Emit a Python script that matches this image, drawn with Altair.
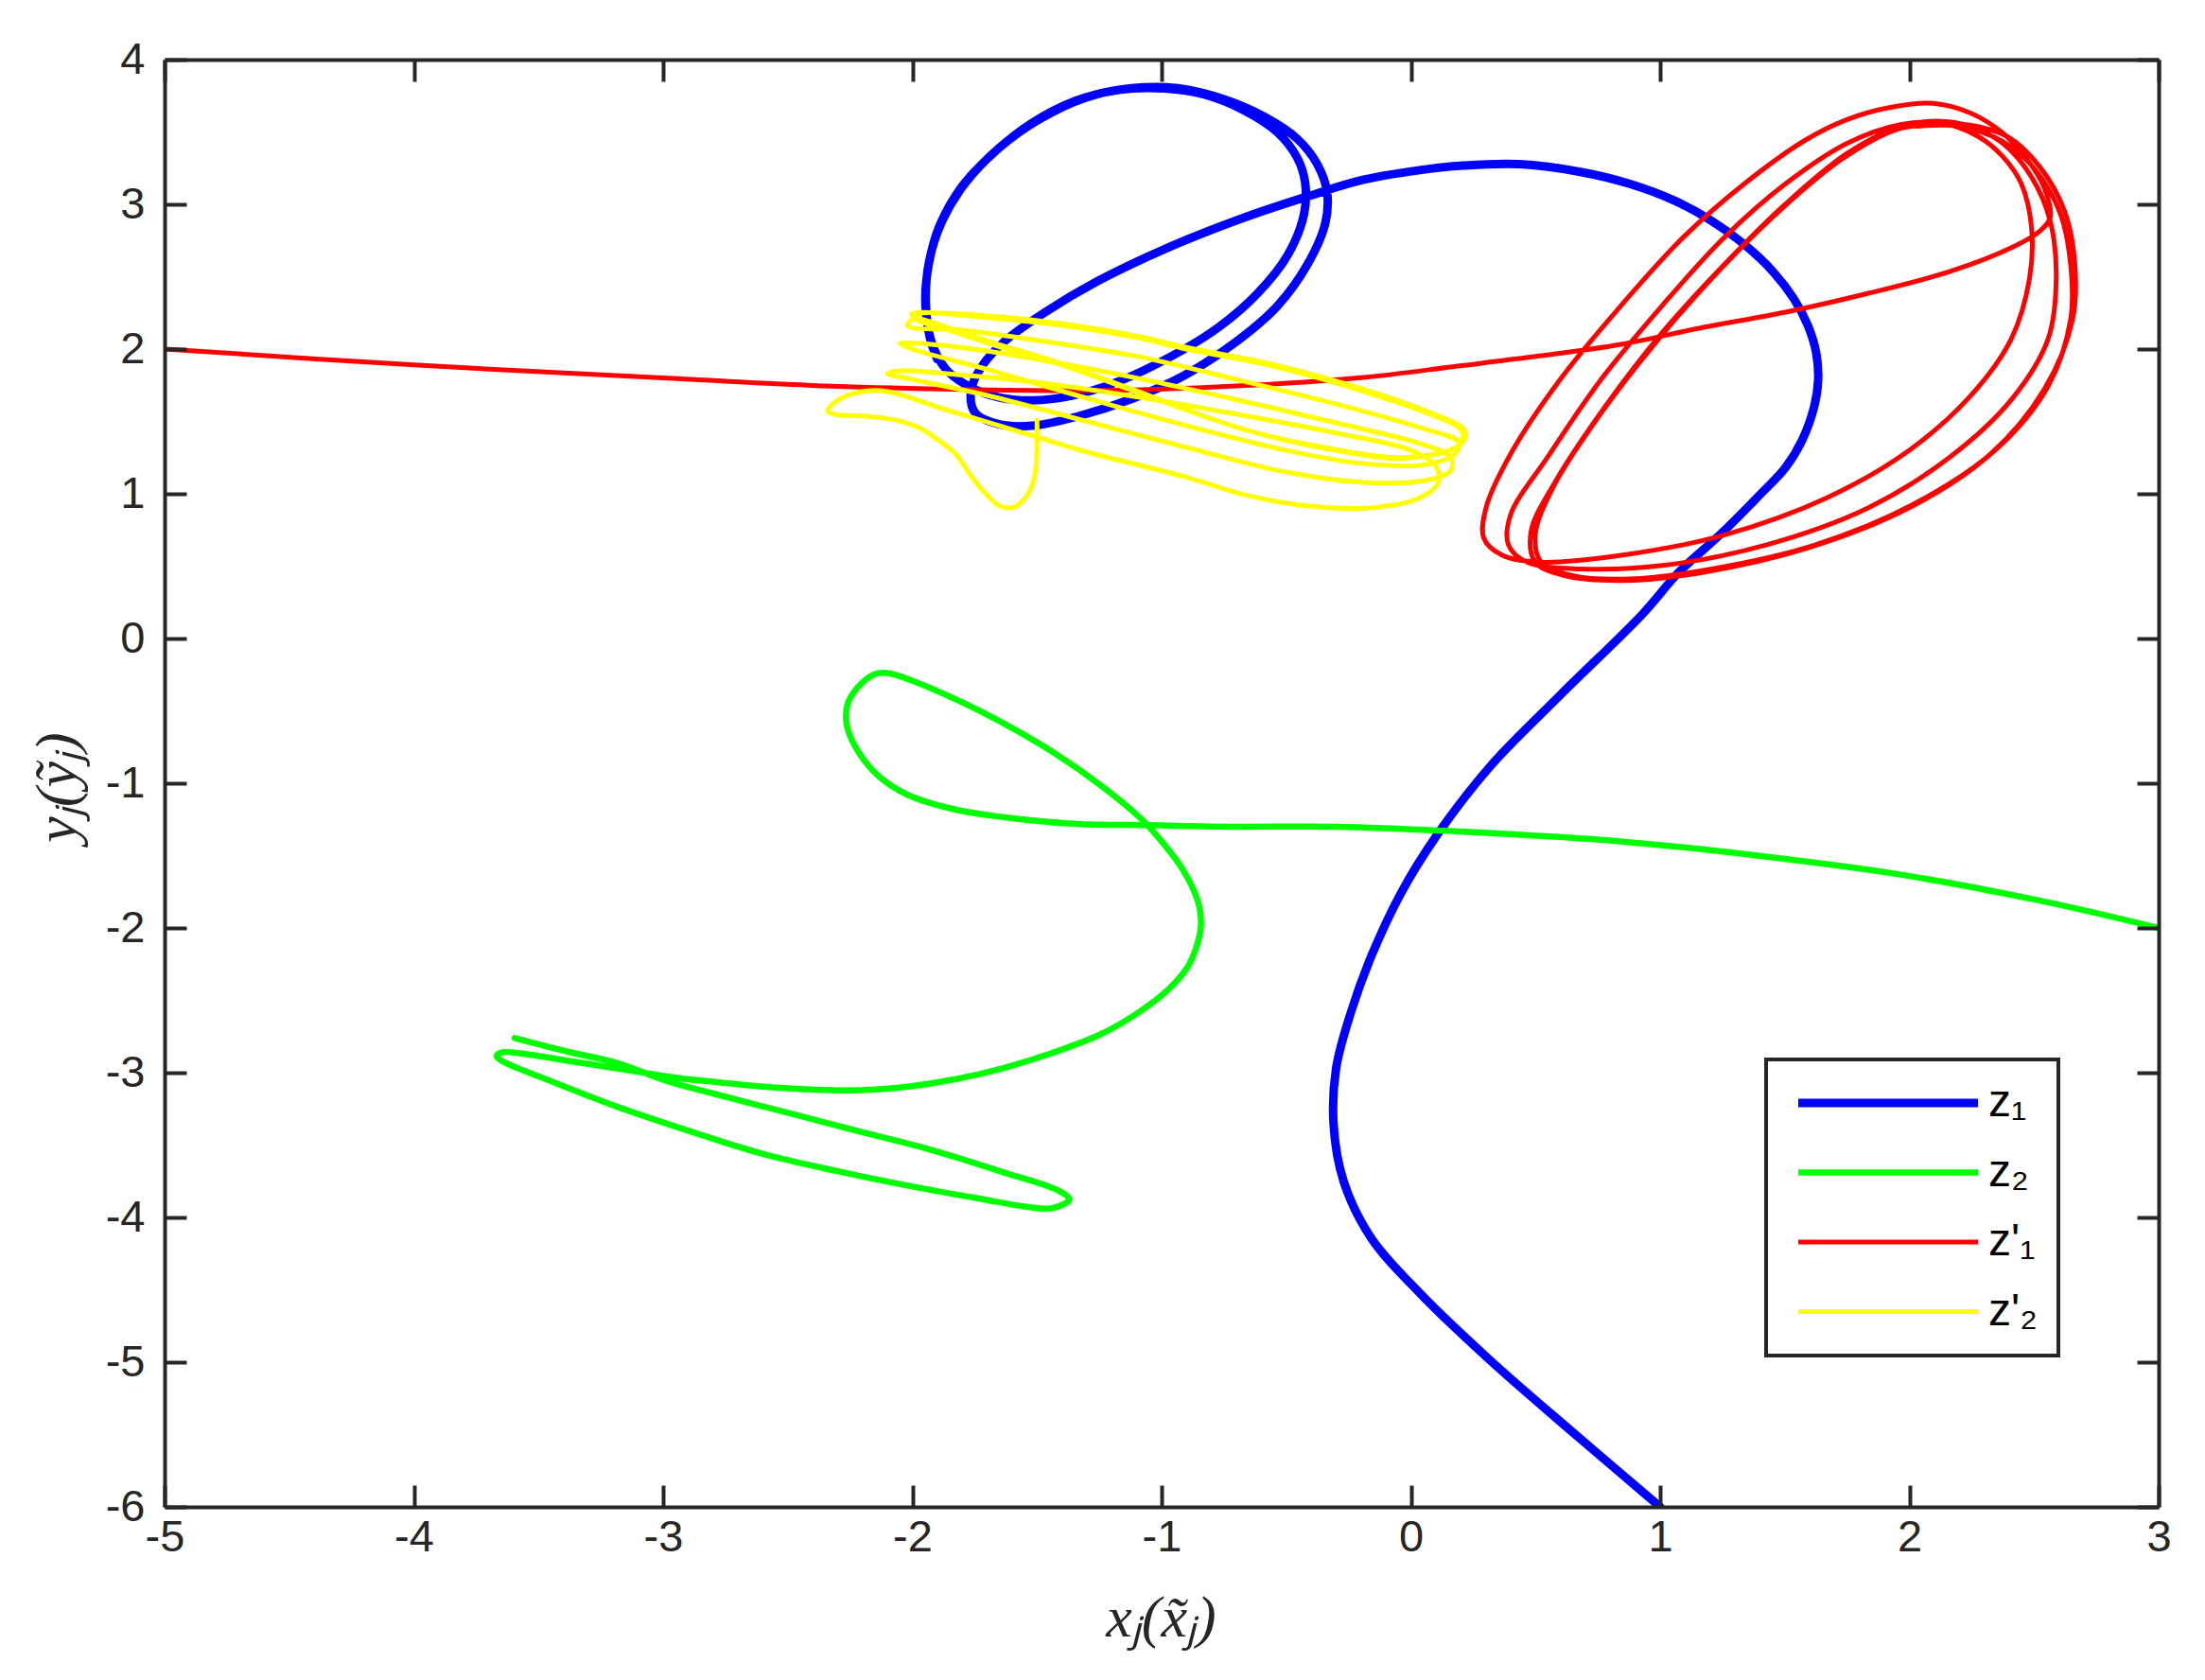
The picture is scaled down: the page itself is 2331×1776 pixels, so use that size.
import altair as alt
import pandas as pd

# ---------------- data ----------------
z1_x = [1.00, 0.66, 0.32, 0.04, -0.16, -0.27, -0.31, -0.30, -0.24, -0.16, -0.04, 0.10, 0.32, 0.60, 0.93,
        1.075, 1.239, 1.388, 1.503, 1.569, 1.618, 1.634, 1.626, 1.593, 1.536, 1.453, 1.338, 1.207, 1.058,
        0.877, 0.680, 0.433, 0.210, 0.077, -0.189, -0.402, -0.669, -0.988, -1.254, -1.467, -1.627, -1.72,
        -1.765, -1.747, -1.653, -1.52, -1.334, -1.121, -0.908, -0.695, -0.535, -0.416, -0.344, -0.336,
        -0.376, -0.456, -0.589, -0.749, -0.935, -1.121, -1.307, -1.494, -1.653, -1.787, -1.880, -1.933,
        -1.946, -1.925, -1.866, -1.773, -1.653, -1.52, -1.361, -1.174, -0.961, -0.775, -0.615, -0.495,
        -0.429, -0.424, -0.456, -0.535, -0.669, -0.828, -0.988, -1.174, -1.347, -1.52, -1.667, -1.80,
        -1.893, -1.935, -1.948, -1.93, -1.90]
z1_y = [-6.00, -5.50, -4.99, -4.53, -4.14, -3.75, -3.36, -2.97, -2.58, -2.20, -1.76, -1.37, -0.88, -0.39, 0.17,
        0.458, 0.715, 0.972, 1.182, 1.368, 1.602, 1.788, 1.975, 2.162, 2.349, 2.535, 2.722, 2.885, 3.025,
        3.142, 3.224, 3.277, 3.268, 3.246, 3.17, 3.061, 2.908, 2.691, 2.472, 2.255, 2.058, 1.884,
        1.71, 1.557, 1.481, 1.47, 1.536, 1.655, 1.819, 2.058, 2.298, 2.581, 2.865, 3.083,
        3.279, 3.453, 3.606, 3.725, 3.802, 3.802, 3.736, 3.584, 3.388, 3.148, 2.887, 2.603,
        2.32, 2.058, 1.862, 1.742, 1.666, 1.645, 1.677, 1.775, 1.95, 2.146, 2.385, 2.647,
        2.93, 3.148, 3.322, 3.497, 3.649, 3.758, 3.80, 3.79, 3.714, 3.562, 3.366, 3.126,
        2.843, 2.58, 2.33, 2.08, 1.93]

z2_x = [3.00, 2.52, 1.96, 1.39, 0.83, 0.27, -0.30, -0.725, -1.05, -1.341, -1.631, -1.825, -2.019, -2.135,
        -2.212, -2.261, -2.261, -2.222, -2.154, -2.096, -1.98, -1.825, -1.631, -1.438, -1.244, -1.089,
        -0.993, -0.915, -0.857, -0.842, -0.857, -0.896, -0.973, -1.089, -1.244, -1.438, -1.631, -1.825,
        -2.019, -2.212, -2.406, -2.6, -2.793, -2.929, -3.18, -3.374, -3.567, -3.645, -3.668, -3.645,
        -3.471, -3.18, -2.89, -2.6, -2.309, -2.019, -1.728, -1.535, -1.438, -1.37, -1.409, -1.631,
        -1.922, -2.212, -2.503, -2.793, -2.987, -3.18, -3.374, -3.596]
z2_y = [-2.00, -1.81, -1.63, -1.50, -1.40, -1.34, -1.30, -1.30, -1.29, -1.281, -1.235, -1.183, -1.08, -0.951,
        -0.796, -0.615, -0.46, -0.343, -0.248, -0.24, -0.305, -0.421, -0.589, -0.783, -1.015, -1.235,
        -1.416, -1.597, -1.803, -1.958, -2.113, -2.269, -2.424, -2.579, -2.734, -2.863, -2.966, -3.044,
        -3.096, -3.121, -3.116, -3.096, -3.064, -3.039, -2.972, -2.92, -2.868, -2.858, -2.884, -2.92,
        -3.044, -3.238, -3.406, -3.561, -3.677, -3.78, -3.871, -3.928, -3.935, -3.876, -3.819, -3.69,
        -3.535, -3.406, -3.276, -3.147, -3.057, -2.935, -2.858, -2.76]

zp1_x = [-5.0, -4.0, -3.0, -2.32, -1.79, -1.25, -0.72, -0.19, 0.186, 0.515, 0.844, 1.174, 1.503, 1.832,
         2.161, 2.408, 2.523, 2.565, 2.54, 2.474,
         2.375, 2.243, 2.095, 1.914, 1.750, 1.585, 1.338, 1.091, 0.844, 0.598, 0.400, 0.301, 0.293, 0.367,
         0.515, 0.844, 1.256, 1.667, 1.997, 2.243, 2.408, 2.482, 2.490, 2.449, 2.375, 2.276,
         2.128, 1.964, 1.750, 1.503, 1.256, 1.009, 0.762, 0.548, 0.400, 0.392, 0.466, 0.680, 1.009, 1.421,
         1.832, 2.161, 2.408, 2.556, 2.589, 2.565, 2.490, 2.375, 2.243,
         2.128, 1.964, 1.750, 1.503, 1.256, 1.009, 0.779, 0.581, 0.482, 0.499, 0.614, 0.844, 1.174, 1.585,
         1.997, 2.326, 2.540, 2.655, 2.663, 2.622, 2.523, 2.392, 2.227,
         2.095, 1.947, 1.733, 1.486, 1.239, 0.993, 0.762, 0.573, 0.499, 0.523, 0.647, 0.877, 1.207, 1.618,
         2.013, 2.342, 2.556, 2.647, 2.647, 2.606, 2.507, 2.375, 2.194, 2.030]
zp1_y = [2.0, 1.89, 1.80, 1.743, 1.721, 1.714, 1.743, 1.804, 1.882, 1.952, 2.033, 2.15, 2.255, 2.384,
         2.535, 2.699, 2.815, 2.909, 3.119, 3.306,
         3.492, 3.632, 3.698, 3.667, 3.586, 3.446, 3.142, 2.769, 2.302, 1.788, 1.275, 0.901, 0.691, 0.575,
         0.528, 0.575, 0.715, 0.971, 1.298, 1.672, 2.068, 2.489, 2.839, 3.142, 3.329, 3.469,
         3.562, 3.551, 3.422, 3.142, 2.769, 2.302, 1.788, 1.252, 0.855, 0.645, 0.528, 0.481, 0.505, 0.645,
         0.901, 1.252, 1.648, 2.068, 2.489, 2.885, 3.189, 3.422, 3.539,
         3.574, 3.539, 3.352, 3.002, 2.582, 2.115, 1.602, 1.088, 0.738, 0.528, 0.435, 0.400, 0.458, 0.621,
         0.901, 1.275, 1.718, 2.208, 2.605, 2.955, 3.259, 3.469, 3.551,
         3.551, 3.516, 3.317, 2.967, 2.547, 2.068, 1.555, 1.053, 0.715, 0.528, 0.435, 0.411, 0.481, 0.645,
         0.925, 1.298, 1.742, 2.208, 2.582, 2.932, 3.235, 3.434, 3.539, 3.539]

zp2_x = [-1.50, -1.50, -1.503, -1.516, -1.548, -1.598, -1.649, -1.70, -1.763, -1.826, -1.889, -1.965, -2.054,
         -2.18, -2.307, -2.34, -2.32, -2.243, -2.117,
         -1.864, -1.484, -1.294, -0.915, -0.662, -0.408, -0.155, 0.034, 0.11, 0.10,
         0.0, -0.3, -0.7, -1.1, -1.5, -1.8, -2.05, -2.10,
         -2.0, -1.7, -1.3, -0.9, -0.5, -0.2, 0.05, 0.16, 0.16,
         0.05, -0.3, -0.7, -1.1, -1.5, -1.8, -2.05,
         -2.0, -1.7, -1.3, -0.9, -0.5, -0.2, 0.05, 0.18, 0.19,
         0.05, -0.3, -0.7, -1.1, -1.5, -1.8, -2.02,
         -1.99, -1.86, -1.67, -1.42, -1.10, -0.66, -0.28, -0.03, 0.18, 0.21,
         0.199, 0.097, -0.155, -0.535, -0.915, -1.105, -1.421, -1.674, -2.003,
         -1.98, -1.85, -1.66, -1.40, -1.08, -0.64, -0.27, -0.02, 0.19, 0.22,
         0.205, 0.10, -0.15, -0.53, -0.91, -1.10, -1.42, -1.67, -1.96, -2.0]
zp2_y = [1.51, 1.36, 1.21, 1.08, 0.97, 0.905, 0.915, 0.99, 1.12, 1.275, 1.362, 1.449, 1.504,
         1.536, 1.547, 1.57, 1.62, 1.69, 1.711,
         1.58, 1.384, 1.286, 1.122, 0.991, 0.915, 0.904, 0.97, 1.079, 1.19,
         1.30, 1.42, 1.55, 1.67, 1.77, 1.82, 1.85, 1.83,
         1.79, 1.68, 1.50, 1.32, 1.15, 1.08, 1.09, 1.16, 1.25,
         1.34, 1.49, 1.65, 1.80, 1.93, 2.01, 2.04,
         2.0, 1.86, 1.66, 1.47, 1.30, 1.21, 1.20, 1.28, 1.36,
         1.45, 1.62, 1.79, 1.95, 2.06, 2.13, 2.16,
         2.21, 2.15, 2.04, 1.91, 1.71, 1.44, 1.30, 1.25, 1.32, 1.40,
         1.449, 1.536, 1.689, 1.874, 2.005, 2.081, 2.168, 2.212, 2.244,
         2.20, 2.13, 2.02, 1.89, 1.69, 1.43, 1.29, 1.245, 1.33, 1.41,
         1.46, 1.545, 1.70, 1.885, 2.015, 2.09, 2.18, 2.225, 2.25, 2.23]

series_keys = ["z1", "z2", "zp1", "zp2"]
series_labels = ["z₁", "z₂", "z'₁", "z'₂"]
x_ticks = [-5, -4, -3, -2, -1, 0, 1, 2, 3]
y_ticks = [-6, -5, -4, -3, -2, -1, 0, 1, 2, 3, 4]

# ---------------- styles ----------------
colors = ["#0000ff", "#00ff00", "#ff0000", "#ffff00"]
widths = {"z1": 9.0, "z2": 6.5, "zp1": 5.0, "zp2": 5.0}
W, H = 2108, 1530
AX = "#262626"
SANS = "Liberation Sans"
SERIF = "Liberation Serif"


def frame(key, xs, ys):
    return pd.DataFrame({"x": xs, "y": ys, "i": list(range(len(xs))),
                         "series": key, "w": widths[key]})


xscale = alt.Scale(domain=[-5, 3], nice=False, zero=False)
yscale = alt.Scale(domain=[-6, 4], nice=False, zero=False)

label_expr = " : ".join(
    [f"datum.value == '{k}' ? \"{l}\"" for k, l in zip(series_keys[:-1], series_labels[:-1])]
) + f' : "{series_labels[-1]}"'
sw_expr = " : ".join(
    [f"datum.value == '{k}' ? {widths[k]}" for k in series_keys[:-1]]
) + f" : {widths[series_keys[-1]]}"

legend = alt.Legend(
    title=None, orient="none", legendX=1693, legendY=1057,
    symbolType="stroke", symbolSize=36100, symbolStrokeWidth=alt.ExprRef(sw_expr),
    symbolOffset=83,
    labelExpr=label_expr, labelFont=SANS, labelFontSize=48, labelColor="black",
    labelOffset=82, clipHeight=48, rowPadding=25.5, padding=22,
    fillColor="white", strokeColor=AX,
)
color = alt.Color("series:N", scale=alt.Scale(domain=series_keys, range=colors), legend=legend)

tick_common = dict(values=x_ticks, ticks=True, tickSize=23, tickWidth=4, tickColor=AX,
                   labels=False, title=None, grid=False, zindex=1)
tick_common_y = dict(tick_common, values=y_ticks)

ax_bottom = alt.Axis(orient="bottom", values=x_ticks, ticks=False, domain=True, domainColor=AX,
                     domainWidth=4, labelExpr="'' + datum.value", labelFont=SANS, labelFontSize=47,
                     labelColor=AX, labelPadding=9, labelFlush=False, grid=False, zindex=1,
                     title="xⱼ(x̃ⱼ)", titleFont=SERIF, titleFontSize=62, titleFontStyle="italic",
                     titleFontWeight="normal", titleColor=AX, titleX=1053, titleY=117,
                     titleBaseline="middle", titleAlign="center")
ax_left = alt.Axis(orient="left", values=y_ticks, ticks=False, domain=True, domainColor=AX,
                   domainWidth=4, labelExpr="'' + datum.value", labelFont=SANS, labelFontSize=47,
                   labelColor=AX, labelPadding=21, labelFlush=False, grid=False, zindex=1,
                   title="yⱼ(ỹⱼ)", titleFont=SERIF, titleFontSize=62, titleFontStyle="italic",
                   titleFontWeight="normal", titleColor=AX, titleX=-114, titleY=769,
                   titleAngle=270, titleBaseline="middle", titleAlign="center")
ax_in_bottom = alt.Axis(orient="top", offset=-H, domain=False, **tick_common)
ax_in_left = alt.Axis(orient="right", offset=-W, domain=False, **tick_common_y)
ax_top = alt.Axis(orient="bottom", offset=-H, domain=True, domainColor=AX, domainWidth=4, **tick_common)
ax_right = alt.Axis(orient="left", offset=-W, domain=True, domainColor=AX, domainWidth=4, **tick_common_y)


def layer(key, xs, ys, xaxis, yaxis):
    return alt.Chart(frame(key, xs, ys)).mark_line(
        strokeJoin="round", strokeCap="round", clip=True, interpolate="catmull-rom"
    ).encode(
        x=alt.X("x:Q", scale=xscale, axis=xaxis),
        y=alt.Y("y:Q", scale=yscale, axis=yaxis),
        order=alt.Order("i:Q"),
        color=color,
        strokeWidth=alt.StrokeWidth("w:Q", scale=None, legend=None),
    )


chart = alt.layer(
    layer("z1", z1_x, z1_y, ax_bottom, ax_left),
    layer("z2", z2_x, z2_y, ax_in_bottom, ax_in_left),
    layer("zp1", zp1_x, zp1_y, ax_top, ax_right),
    layer("zp2", zp2_x, zp2_y, None, None),
).resolve_axis(x="independent", y="independent").properties(
    width=W, height=H,
    autosize=alt.AutoSizeParams(type="none"),
    padding={"left": 166, "top": 55, "right": 41, "bottom": 165},
    background="white",
).configure_view(stroke=None).configure_legend(strokeWidth=4, cornerRadius=0)

chart.save("out.html", embed_options={"renderer": "svg", "actions": False})
